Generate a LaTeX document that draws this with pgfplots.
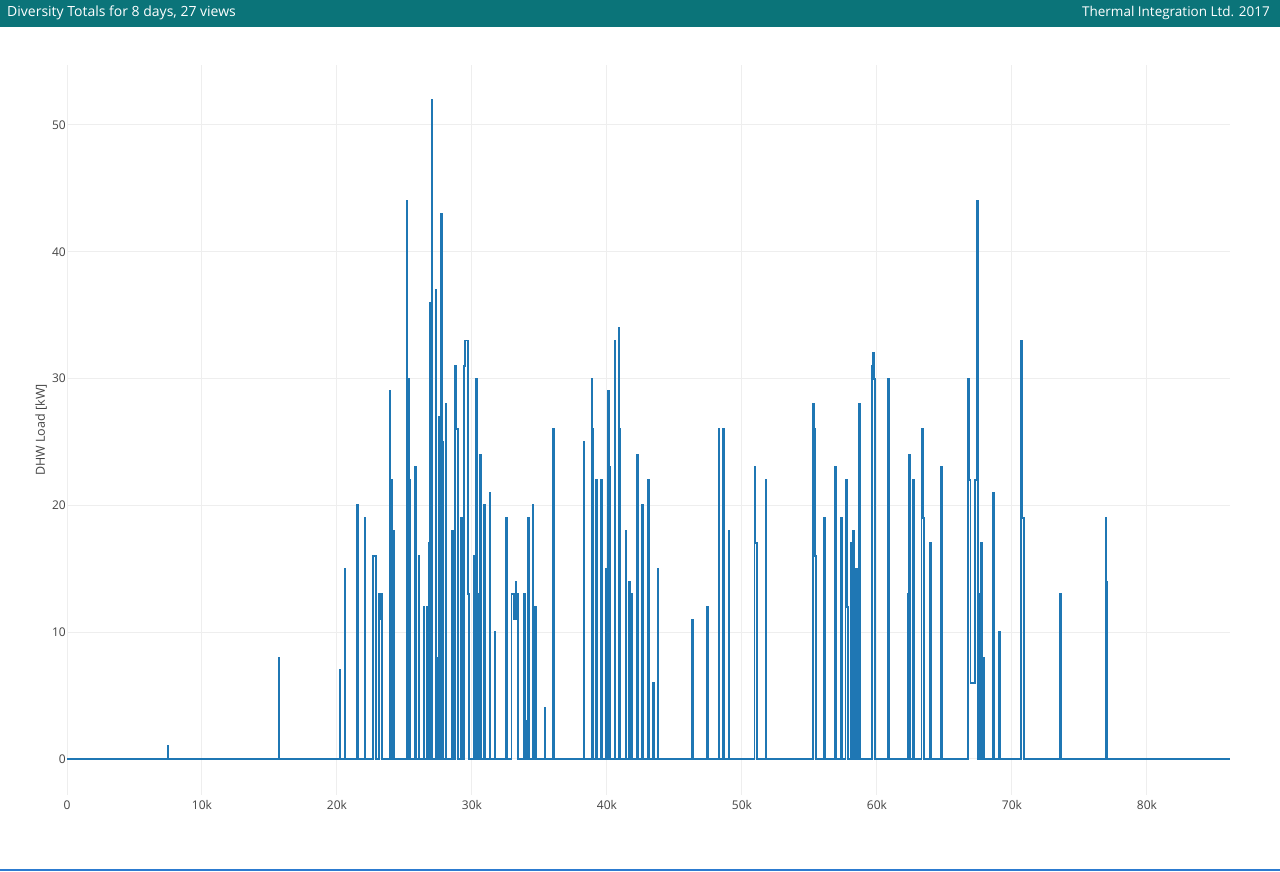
\documentclass[border=0pt]{standalone}
\usepackage{fontspec}
\setmainfont{Open Sans}
\usepackage{pgfplots}
\usepackage{pgfplotstable}
\pgfplotsset{compat=1.18}
\definecolor{hdr}{HTML}{0B7479}
\definecolor{dline}{HTML}{1F77B4}
\definecolor{gridc}{HTML}{EEEEEE}
\definecolor{tickc}{HTML}{444444}
\definecolor{botline}{HTML}{2C7BD0}
\pgfplotstableread{
x y
0 0
7450 1
7510 0
15670 8
15730 0
20190 7
20250 0
20560 15
20620 0
21500 20
21560 0
22040 19
22100 0
22700 16
22880 0
23080 13
23160 11
23200 13
23360 0
23890 29
23950 0
23990 22
24050 0
24140 18
24200 0
25150 44
25220 0
25300 30
25360 22
25440 0
25750 15
25810 23
25880 0
26040 16
26100 0
26410 12
26470 0
26670 12
26730 0
26820 17
26860 36
26920 0
27000 52
27070 0
27300 37
27360 8
27440 0
27520 27
27580 0
27720 43
27780 25
27840 0
28040 28
28100 0
28540 18
28600 0
28760 31
28820 26
28940 0
29200 19
29260 0
29430 31
29500 33
29700 13
29780 0
30120 16
30180 0
30320 30
30380 13
30460 0
30610 24
30670 0
30910 20
30970 0
31300 21
31360 0
31670 10
31730 0
32510 19
32570 0
32930 13
33140 11
33230 14
33290 13
33380 0
33870 13
33930 0
33990 3
34050 0
34170 19
34230 0
34490 20
34550 0
34690 12
34750 0
35380 4
35440 0
35990 26
36050 0
38270 25
38330 0
38860 30
38920 26
38980 0
39210 22
39270 0
39580 22
39640 0
39950 15
40010 0
40070 29
40130 23
40230 0
40560 33
40620 0
40860 34
40920 26
40990 0
41380 18
41440 0
41620 14
41680 0
41800 13
41860 0
42190 22
42250 24
42310 0
42610 20
42670 0
43060 22
43120 0
43430 6
43490 0
43750 15
43810 0
46320 11
46380 0
47400 12
47460 0
48270 26
48330 0
48590 26
48650 0
49010 18
49070 0
50930 23
51000 17
51080 0
51750 22
51810 0
55250 28
55340 26
55430 16
55500 0
56100 19
56160 0
56910 23
56970 0
57330 19
57390 0
57670 22
57760 12
57830 0
58100 17
58150 0
58240 18
58300 0
58470 15
58530 0
58690 28
58750 0
59650 31
59720 32
59790 30
59860 0
60840 30
60900 0
62270 13
62390 24
62450 0
62640 21
62690 22
62750 0
63300 26
63380 19
63450 0
63950 17
64010 0
64760 23
64830 0
66760 30
66840 22
66930 6
67280 22
67410 44
67480 0
67560 13
67620 0
67710 17
67770 0
67860 8
67920 0
68580 21
68640 0
69020 10
69080 0
70700 33
70770 19
70900 0
73580 13
73640 0
76930 19
77000 14
77060 0
86150 0
}\dhw
\begin{document}
\begin{tikzpicture}
\useasboundingbox (0pt,0pt) rectangle (1280pt,871pt);
\fill[hdr] (0pt,844pt) rectangle (1280pt,871pt);
\node[anchor=west, text=white, inner sep=0pt, font=\fontsize{14}{16}\selectfont] at (7pt,858pt) {Diversity Totals for 8 days, 27 views};
\node[anchor=east, text=white, inner sep=0pt, font=\fontsize{13.5}{16}\selectfont] at (1270pt,858pt) {Thermal Integration Ltd. 2017};
\draw[botline, line width=2pt] (0pt,1pt) -- (1280pt,1pt);
\begin{axis}[
  at={(67pt,76pt)}, anchor=south west,
  scale only axis, width=1163pt, height=730pt,
  xmin=0, xmax=86150, ymin=-2.84, ymax=54.73,
  axis line style={draw=none}, tick style={draw=none},
  grid=major, major grid style={gridc, line width=1pt},
  xtick={0,10000,20000,30000,40000,50000,60000,70000,80000},
  xticklabels={0,10k,20k,30k,40k,50k,60k,70k,80k},
  ytick={0,10,20,30,40,50},
  scaled x ticks=false,
  /pgf/number format/assume math mode=true,
  ticklabel style={font=\fontsize{12}{14}\selectfont, text=tickc},
  xticklabel style={anchor=center, yshift=-10pt},
  yticklabel style={anchor=east, inner sep=0pt, xshift=-1pt},
  ylabel={DHW Load [kW]},
  every axis y label/.style={at={(axis description cs:-0.02236,0.5)}, rotate=90, anchor=center, font=\fontsize{12.5}{14}\selectfont, text=tickc},
]
\addplot[const plot, dline, line width=1.9pt, line join=miter] table[x=x,y=y] {\dhw};
\end{axis}
\end{tikzpicture}
\end{document}
